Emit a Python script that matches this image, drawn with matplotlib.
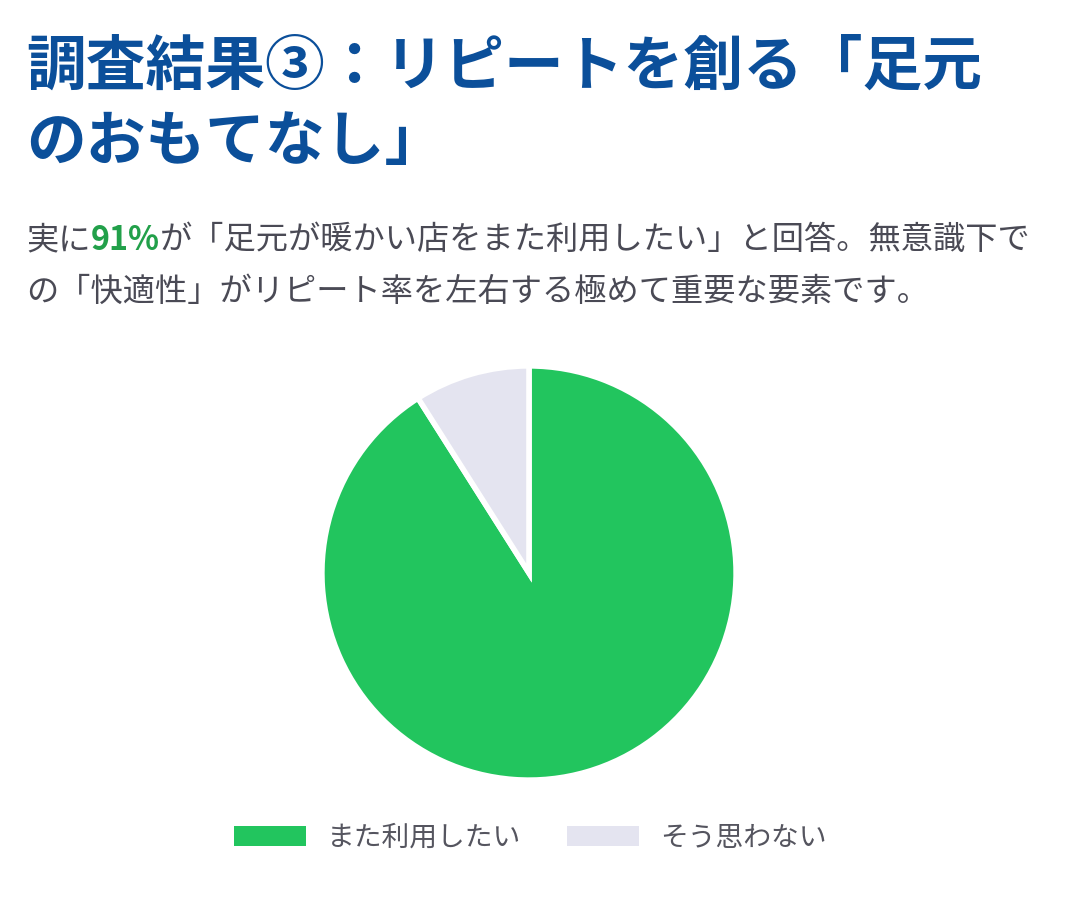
import matplotlib
matplotlib.use("Agg")
import matplotlib.pyplot as plt

plt.rcParams['font.family'] = ['Noto Sans CJK JP', 'DejaVu Sans']

# data
labels = ["また利用したい", "そう思わない"]
values = [91, 9]
colors = ["#22c55e", "#e4e4f0"]

title_lines = ["調査結果③：リピートを創る「足元", "のおもてなし」"]
sub_parts = [("実に", "#4a4a55", "normal"), ("91%", "#22a04a", "bold"),
             ("が「足元が暖かい店をまた利用したい」と回答。無意識下で", "#4a4a55", "normal")]
sub_line2 = "の「快適性」がリピート率を左右する極めて重要な要素です。"

fig = plt.figure(figsize=(10.8, 9), dpi=100)
fig.patch.set_facecolor("white")

title_color = "#0b4f9a"
fig.text(0.024, 1 - 68 / 900, title_lines[0], fontsize=43, fontweight="bold",
         color=title_color, va="center", ha="left")
fig.text(0.024, 1 - 143 / 900, title_lines[1], fontsize=43, fontweight="bold",
         color=title_color, va="center", ha="left")

# subtitle with highlighted number
fig.canvas.draw()
renderer = fig.canvas.get_renderer()
x = 0.024
y1 = 1 - 240 / 900
for txt, col, wt in sub_parts:
    t = fig.text(x, y1, txt, fontsize=23.2, color=col, fontweight=wt,
                 va="center", ha="left")
    bb = t.get_window_extent(renderer=renderer)
    x = bb.x1 / fig.bbox.width
fig.text(0.024, 1 - 292 / 900, sub_line2, fontsize=23.2, color="#4a4a55",
         va="center", ha="left")

# pie
ax = fig.add_axes([325 / 1080, 123 / 900, 408 / 1080, 408 / 900])
wedges, _ = ax.pie(values, colors=colors, startangle=90, counterclock=False,
                   wedgeprops=dict(edgecolor="white", linewidth=4))
ax.set_xlim(-0.985, 0.985)
ax.set_ylim(-0.985, 0.985)
ax.set_aspect("equal")
ax.axis("off")

leg = fig.legend(wedges, labels, loc="center", bbox_to_anchor=(0.491, 1 - 838 / 900),
                 ncol=2, frameon=False, fontsize=20, labelcolor="#55555f",
                 handlelength=2.6, handleheight=0.72, handletextpad=0.75,
                 columnspacing=1.65)
for h in leg.legend_handles:
    h.set_edgecolor(h.get_facecolor())
    h.set_linewidth(0)

fig.savefig("out.png", dpi=100, facecolor="white")
